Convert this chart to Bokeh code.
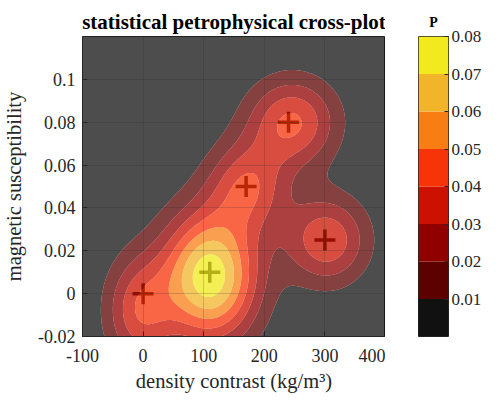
import numpy as np
from bokeh.plotting import figure
from bokeh.layouts import row
from bokeh.models import FixedTicker, CustomJSTickFormatter, Range1d, Title
from bokeh.embed import file_html
from bokeh.resources import INLINE

# ---- data -------------------------------------------------------------
# class centres (markers): density contrast (kg/m^3), magnetic susceptibility
centre_x = [0, 110, 170, 240, 300]
centre_y = [0.0, 0.01, 0.05, 0.08, 0.025]
# probability model of each class: mode, peak value and spread
mode_x = [-5, 110, 173, 246, 303]
mode_y = [-0.008, 0.008, 0.05, 0.08, 0.025]
peak_p = [0.036, 0.077, 0.036, 0.041, 0.038]
sigma_x = [40, 55, 46, 52, 48]
sigma_y = [0.018, 0.021, 0.015, 0.0145, 0.0145]

p_levels = [0.0, 0.01, 0.02, 0.03, 0.04, 0.05, 0.06, 0.07, 0.08]
p_ticks = [0.01, 0.02, 0.03, 0.04, 0.05, 0.06, 0.07, 0.08]
band_colors = ["#111111", "#5c0000", "#900000", "#cc1100",
               "#f73308", "#f87e14", "#f2b52a", "#f2ea1e"]
x_ticks = [-100, 0, 100, 200, 300, 400]
y_ticks = [-0.02, 0.0, 0.02, 0.04, 0.06, 0.08, 0.1]

# ---- probability field --------------------------------------------------
xs = np.linspace(-100, 400, 501)
ys = np.linspace(-0.02, 0.12, 421)
X, Y = np.meshgrid(xs, ys)
Z = np.zeros_like(X)
for mx, my, a, sx, sy in zip(mode_x, mode_y, peak_p, sigma_x, sigma_y):
    Z += a * np.exp(-0.5 * ((X - mx) / sx) ** 2 - 0.5 * ((Y - my) / sy) ** 2)
contour_levels = list(p_levels[:-1]) + [max(float(Z.max()) + 1e-6, p_levels[-1])]

SERIF = "Liberation Serif"
TXT = "#262626"
num_fmt = CustomJSTickFormatter(
    code="const v = Math.round(tick*1000)/1000; return v === 0 ? '0' : v.toString();")

FRAME_H = 300
p = figure(frame_width=303, frame_height=FRAME_H,
           x_range=Range1d(-100, 400), y_range=Range1d(-0.02, 0.12),
           output_backend="svg", toolbar_location=None,
           min_border_left=78, min_border_right=0,
           title="statistical petrophysical cross-plot")
p.background_fill_color = "white"
p.border_fill_color = "white"

# markers first, then the semi-transparent filled contours over them
p.scatter(centre_x, centre_y, marker="cross", size=21, line_width=3.5,
          line_color="black")
p.contour(x=xs, y=ys, z=Z, levels=contour_levels,
          fill_color=band_colors, fill_alpha=0.75)

p.title.align = "center"
p.title.text_font = SERIF
p.title.text_font_style = "bold"
p.title.text_font_size = "21px"
p.title.text_color = "black"
p.title.standoff = 6

p.xaxis.ticker = FixedTicker(ticks=x_ticks)
p.yaxis.ticker = FixedTicker(ticks=y_ticks)
p.xaxis.formatter = num_fmt
p.yaxis.formatter = num_fmt
p.yaxis.axis_label = "magnetic susceptibility"
for ax in (p.xaxis[0], p.yaxis[0]):
    ax.axis_label_text_font = SERIF
    ax.axis_label_text_font_style = "normal"
    ax.axis_label_text_font_size = "20.5px"
    ax.axis_label_text_color = TXT
    ax.major_label_text_font = SERIF
    ax.major_label_text_font_size = "18px"
    ax.major_label_text_color = TXT
    ax.major_tick_in = 5
    ax.major_tick_out = 0
    ax.minor_tick_line_color = None
    ax.axis_line_color = TXT
    ax.major_tick_line_color = TXT
p.xaxis.major_label_standoff = 12
p.yaxis.major_label_standoff = 7
p.yaxis.axis_label_standoff = 10

xlabel = Title(text="density contrast (kg/m³)", align="center",
               text_font=SERIF, text_font_style="normal",
               text_font_size="20.5px", text_color=TXT, standoff=6)
p.add_layout(xlabel, "below")

p.xgrid.ticker = FixedTicker(ticks=x_ticks)
p.ygrid.ticker = FixedTicker(ticks=y_ticks)
p.grid.grid_line_color = TXT
p.grid.grid_line_alpha = 0.2
p.grid.level = "overlay"
p.outline_line_color = TXT
p.outline_line_alpha = 1.0

# ---- colour bar -------------------------------------------------------
cb = figure(width=99, frame_height=FRAME_H, x_range=Range1d(0, 1),
            y_range=Range1d(p_levels[0], p_levels[-1]),
            output_backend="svg", toolbar_location=None,
            x_axis_location=None, y_axis_location="right",
            min_border_left=33, min_border_right=34,
            min_border_bottom=40, title="P")
cb.quad(left=0, right=1, bottom=p_levels[:-1], top=p_levels[1:],
        fill_color=band_colors, line_color=None)
cb.grid.visible = False
cb.background_fill_color = "white"
cb.border_fill_color = "white"
cb.outline_line_color = TXT
cb.title.align = "center"
cb.title.text_font = SERIF
cb.title.text_font_style = "bold"
cb.title.text_font_size = "14px"
cb.title.text_color = "black"
cb.title.standoff = 13
cb.yaxis.ticker = FixedTicker(ticks=p_ticks)
cb.yaxis.major_label_text_font = SERIF
cb.yaxis.major_label_text_font_size = "17px"
cb.yaxis.major_label_text_color = TXT
cb.yaxis.major_label_standoff = 3
cb.yaxis.major_tick_in = 4
cb.yaxis.major_tick_out = 0
cb.yaxis.major_tick_line_color = TXT
cb.yaxis.minor_tick_line_color = None
cb.yaxis.axis_line_color = None

layout = row(p, cb, margin=(4, 0, 0, 0))
open("out.html", "w").write(file_html(layout, INLINE))
